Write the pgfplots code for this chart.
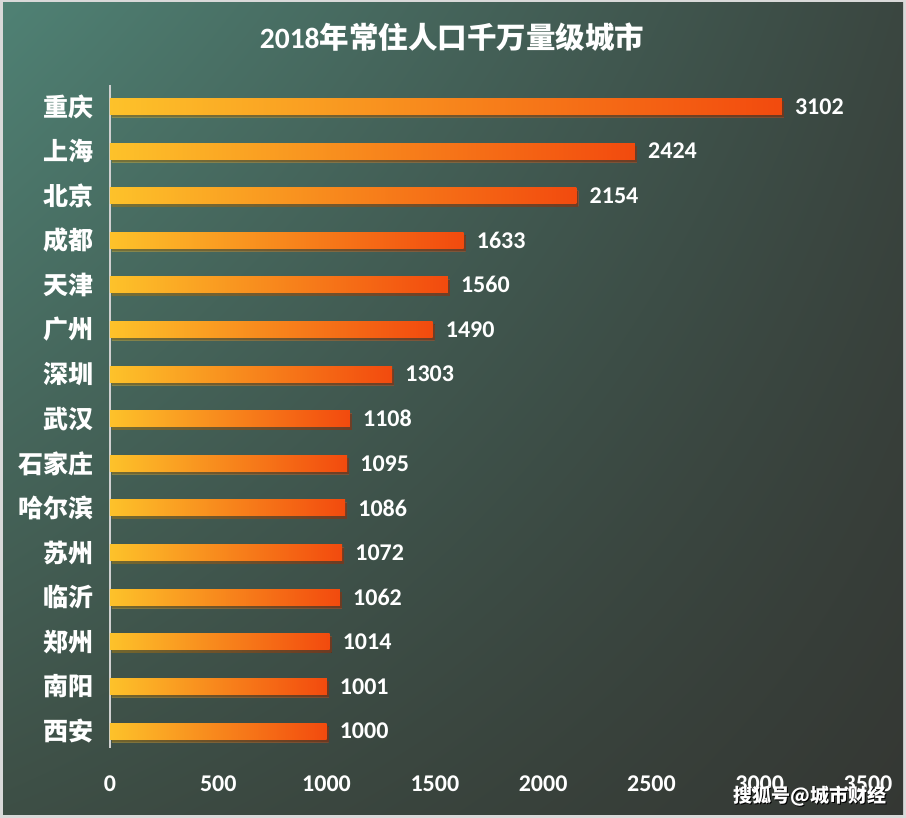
\documentclass[border=0pt]{standalone}
\usepackage{pgfplots}
\pgfplotsset{compat=1.18}
\usetikzlibrary{shadings}
\usepackage{fontspec}
\newfontfamily\cjk{Noto Sans CJK SC}
\newfontfamily\num{Carlito}
\definecolor{bgTL}{HTML}{4F8174}
\definecolor{bgTR}{HTML}{3A4640}
\definecolor{bgBL}{HTML}{3D4E45}
\definecolor{bgBR}{HTML}{343733}
\definecolor{border}{HTML}{D9D9D9}
\definecolor{barL}{HTML}{FDC22A}
\definecolor{barM}{HTML}{F8941E}
\definecolor{barR}{HTML}{F24A0E}
\definecolor{axisline}{HTML}{D0D0D0}
\pgfplotsset{mybar/.style={xbar, bar width=16pt, bar shift=0pt, draw=none,
  left color=barL, middle color=barM, right color=barR,
  preaction={fill=black, opacity=0.35, transform canvas={xshift=2pt,yshift=-3pt}},
  nodes near coords,
  every node near coord/.append style={font=\num\bfseries\fontsize{24}{28}\selectfont, text=white, anchor=west, inner sep=0pt, xshift=13pt}}}
\begin{document}
\begin{tikzpicture}[x=1pt,y=1pt]
\path[use as bounding box] (0,0) rectangle (906,818);
\fill[border] (0,0) rectangle (906,818);
\shade[upper left=bgTL, upper right=bgTR, lower left=bgBL, lower right=bgBR] (3,3) rectangle (903,815);
\node[text=white, font=\fontsize{29.5}{33}\selectfont] at (452,781) {{\num\bfseries 2018}{\cjk\bfseries 年常住人口千万量级城市}};
\begin{axis}[
  at={(110pt,70pt)}, anchor=south west,
  scale only axis, width=758pt, height=663pt,
  xmin=0, xmax=3500, ymin=-0.48, ymax=14.38, y dir=reverse,
  axis lines*=left,
  x axis line style={draw=none},
  y axis line style={draw=axisline, line width=1.6pt},
  major tick length=0pt,
  xtick={0,500,...,3500},
  ytick={0,...,14},
  yticklabels={重庆,上海,北京,成都,天津,广州,深圳,武汉,石家庄,哈尔滨,苏州,临沂,郑州,南阳,西安},
  yticklabel style={font=\cjk\bfseries\fontsize{25}{28}\selectfont, text=white, inner sep=0pt, xshift=-16pt},
  xticklabel style={font=\num\bfseries\fontsize{24}{28}\selectfont, text=white, anchor=base, inner sep=0pt, yshift=-43pt},
  /pgf/number format/1000 sep={},
  /pgf/number format/assume math mode=true,
  clip=false,
]
\addplot[mybar] coordinates {(3102,0)};
\addplot[mybar] coordinates {(2424,1)};
\addplot[mybar] coordinates {(2154,2)};
\addplot[mybar] coordinates {(1633,3)};
\addplot[mybar] coordinates {(1560,4)};
\addplot[mybar] coordinates {(1490,5)};
\addplot[mybar] coordinates {(1303,6)};
\addplot[mybar] coordinates {(1108,7)};
\addplot[mybar] coordinates {(1095,8)};
\addplot[mybar] coordinates {(1086,9)};
\addplot[mybar] coordinates {(1072,10)};
\addplot[mybar] coordinates {(1062,11)};
\addplot[mybar] coordinates {(1014,12)};
\addplot[mybar] coordinates {(1001,13)};
\addplot[mybar] coordinates {(1000,14)};
\end{axis}
\node[text=black, font=\cjk\bfseries\fontsize{19}{22}\selectfont] at (811.2,20.8) {搜狐号@城市财经};
\node[text=white, font=\cjk\bfseries\fontsize{19}{22}\selectfont] at (810,22) {搜狐号@城市财经};
\end{tikzpicture}
\end{document}
